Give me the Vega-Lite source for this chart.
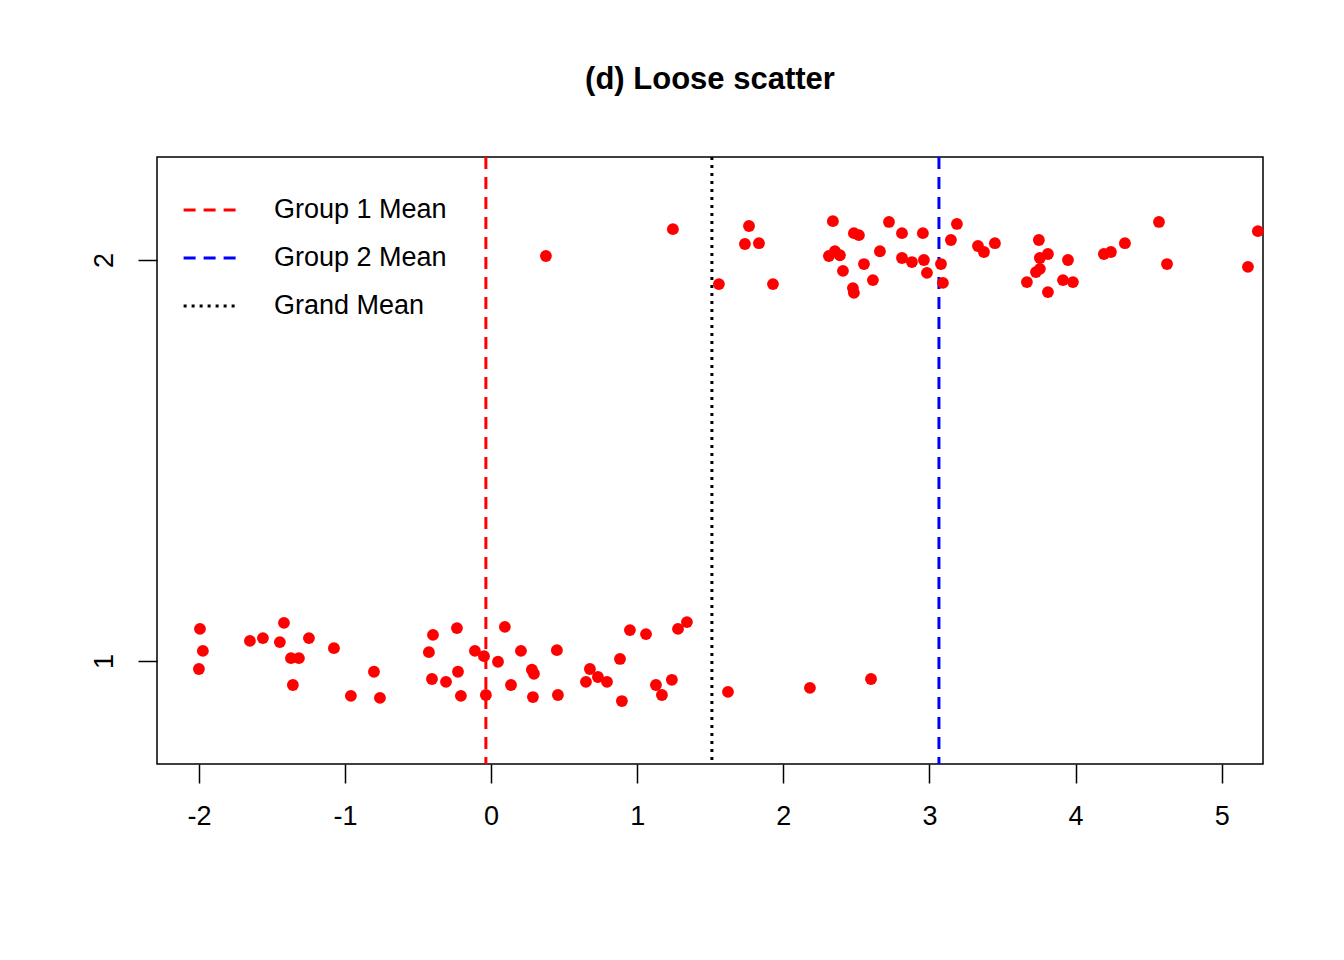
{
  "$schema": "https://vega.github.io/schema/vega-lite/v6.json",
  "width": 1106,
  "height": 607,
  "autosize": "none",
  "padding": {"left": 157, "top": 157, "right": 81, "bottom": 196},
  "background": "white",
  "title": {"text": "(d) Loose scatter", "fontSize": 31, "font": "Liberation Sans", "fontWeight": "bold", "offset": 60, "anchor": "middle"},
  "config": {"view": {"stroke": "black", "strokeWidth": 1.5}},
  "datasets": {
    "pts": [
      {"x": 0.375, "y": 2.010}, {"x": 1.244, "y": 2.077}, {"x": 1.559, "y": 1.940}, {"x": 1.765, "y": 2.085},
      {"x": 1.737, "y": 2.040}, {"x": 1.833, "y": 2.042}, {"x": 1.929, "y": 1.940}, {"x": 2.339, "y": 2.097},
      {"x": 2.312, "y": 2.010}, {"x": 2.353, "y": 2.022}, {"x": 2.387, "y": 2.012}, {"x": 2.408, "y": 1.973},
      {"x": 2.483, "y": 2.067}, {"x": 2.517, "y": 2.062}, {"x": 2.476, "y": 1.930}, {"x": 2.483, "y": 1.918},
      {"x": 2.552, "y": 1.990}, {"x": 2.613, "y": 1.950}, {"x": 2.661, "y": 2.022}, {"x": 2.723, "y": 2.095},
      {"x": 2.812, "y": 2.067}, {"x": 2.812, "y": 2.005}, {"x": 2.880, "y": 1.995}, {"x": 2.955, "y": 2.067},
      {"x": 2.962, "y": 2.000}, {"x": 2.983, "y": 1.968}, {"x": 3.079, "y": 1.990}, {"x": 3.092, "y": 1.943},
      {"x": 3.147, "y": 2.050}, {"x": 3.188, "y": 2.090}, {"x": 3.332, "y": 2.035}, {"x": 3.373, "y": 2.020},
      {"x": 3.448, "y": 2.042}, {"x": 3.667, "y": 1.945}, {"x": 3.729, "y": 1.970}, {"x": 3.749, "y": 2.050},
      {"x": 3.756, "y": 2.005}, {"x": 3.756, "y": 1.978}, {"x": 3.811, "y": 2.015}, {"x": 3.811, "y": 1.920},
      {"x": 3.914, "y": 1.950}, {"x": 3.948, "y": 2.000}, {"x": 3.982, "y": 1.945}, {"x": 4.194, "y": 2.015},
      {"x": 4.242, "y": 2.020}, {"x": 4.338, "y": 2.042}, {"x": 4.571, "y": 2.095}, {"x": 4.626, "y": 1.990},
      {"x": 5.180, "y": 1.983}, {"x": 5.248, "y": 2.072},
      {"x": -1.993, "y": 1.080}, {"x": -1.973, "y": 1.025}, {"x": -2.000, "y": 0.980}, {"x": -1.651, "y": 1.050},
      {"x": -1.562, "y": 1.057}, {"x": -1.446, "y": 1.047}, {"x": -1.418, "y": 1.095}, {"x": -1.370, "y": 1.007},
      {"x": -1.316, "y": 1.007}, {"x": -1.247, "y": 1.057}, {"x": -1.357, "y": 0.940}, {"x": -1.076, "y": 1.032},
      {"x": -0.960, "y": 0.913}, {"x": -0.802, "y": 0.973}, {"x": -0.761, "y": 0.908}, {"x": -0.426, "y": 1.022},
      {"x": -0.398, "y": 1.065}, {"x": -0.405, "y": 0.955}, {"x": -0.309, "y": 0.948}, {"x": -0.227, "y": 0.973},
      {"x": -0.234, "y": 1.082}, {"x": -0.207, "y": 0.913}, {"x": -0.111, "y": 1.025}, {"x": -0.049, "y": 1.012},
      {"x": -0.036, "y": 0.915}, {"x": 0.047, "y": 0.998}, {"x": 0.094, "y": 1.085}, {"x": 0.136, "y": 0.940},
      {"x": 0.204, "y": 1.025}, {"x": 0.279, "y": 0.978}, {"x": 0.293, "y": 0.968}, {"x": 0.286, "y": 0.910},
      {"x": 0.450, "y": 1.027}, {"x": 0.457, "y": 0.915}, {"x": 0.649, "y": 0.948}, {"x": 0.676, "y": 0.980},
      {"x": 0.731, "y": 0.960}, {"x": 0.793, "y": 0.948}, {"x": 0.882, "y": 1.005}, {"x": 0.895, "y": 0.900},
      {"x": 0.950, "y": 1.077}, {"x": 1.060, "y": 1.067}, {"x": 1.128, "y": 0.940}, {"x": 1.169, "y": 0.915},
      {"x": 1.237, "y": 0.953}, {"x": 1.279, "y": 1.080}, {"x": 1.340, "y": 1.097}, {"x": 1.621, "y": 0.923},
      {"x": 2.182, "y": 0.933}, {"x": 2.600, "y": 0.955}
    ],
    "means": [
      {"x": -0.036, "label": "Group 1 Mean"},
      {"x": 3.065, "label": "Group 2 Mean"},
      {"x": 1.511, "label": "Grand Mean"}
    ]
  },
  "layer": [
    {
      "data": {"name": "means"},
      "mark": {"type": "rule", "strokeWidth": 3},
      "encoding": {
        "x": {"field": "x", "type": "quantitative", "scale": {"domain": [-2.287, 5.283], "nice": false, "zero": false}},
        "color": {
          "field": "label", "type": "nominal",
          "scale": {"domain": ["Group 1 Mean", "Group 2 Mean", "Grand Mean"], "range": ["#ff0000", "#0000ff", "#000000"]},
          "legend": {
            "title": null, "orient": "none", "legendX": 25, "legendY": 24,
            "symbolType": "stroke", "symbolSize": 3000, "symbolStrokeWidth": 3,
            "labelFontSize": 27, "labelFont": "Liberation Sans", "labelLimit": 400, "rowPadding": 6, "labelOffset": 34
          }
        },
        "strokeDash": {
          "field": "label", "type": "nominal",
          "scale": {"domain": ["Group 1 Mean", "Group 2 Mean", "Grand Mean"], "range": [[12, 8], [12, 8], [3, 5]]},
          "legend": null
        }
      }
    },
    {
      "data": {"name": "pts"},
      "mark": {"type": "circle", "color": "#ff0000", "opacity": 1, "size": 140},
      "encoding": {
        "x": {
          "field": "x", "type": "quantitative",
          "scale": {"domain": [-2.287, 5.283], "nice": false, "zero": false},
          "axis": {"title": null, "values": [-2, -1, 0, 1, 2, 3, 4, 5], "grid": false, "domain": false, "format": "d",
            "labelExpr": "replace(datum.label, '−', '-')",
            "tickSize": 19, "tickColor": "black", "tickWidth": 1.5, "labelFontSize": 27, "labelFont": "Liberation Sans",
            "labelColor": "black", "labelPadding": 20}
        },
        "y": {
          "field": "y", "type": "quantitative",
          "scale": {"domain": [0.743, 2.257], "nice": false, "zero": false},
          "axis": {"title": null, "values": [1, 2], "grid": false, "domain": false, "format": "d",
            "tickSize": 19, "tickColor": "black", "tickWidth": 1.5, "labelFontSize": 27, "labelFont": "Liberation Sans",
            "labelColor": "black", "labelAngle": -90, "labelAlign": "center", "labelBaseline": "bottom", "labelPadding": 20}
        }
      }
    }
  ]
}
